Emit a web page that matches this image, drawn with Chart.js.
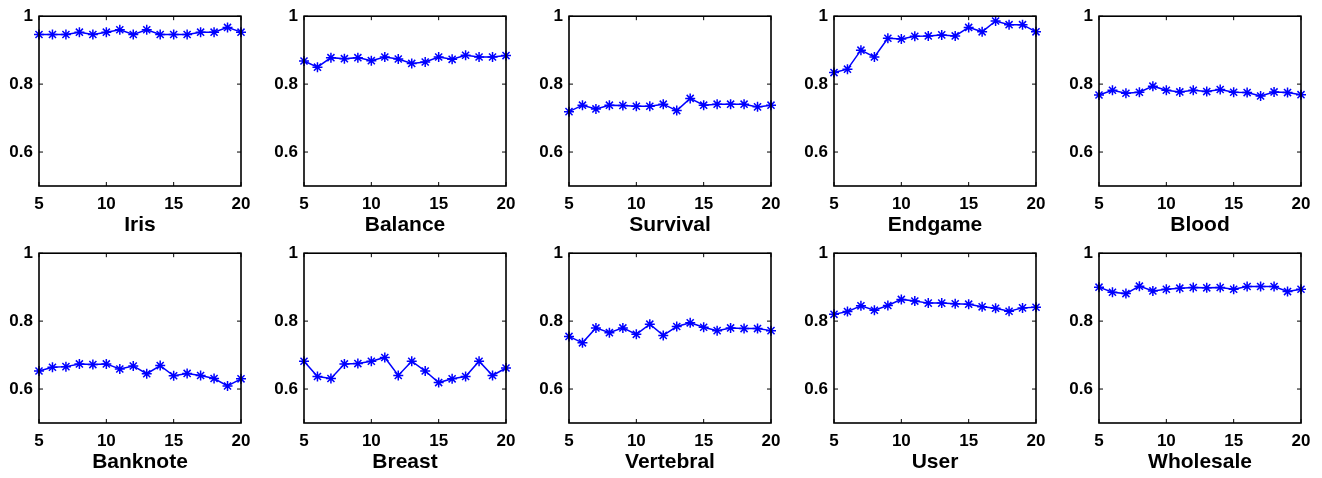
<!DOCTYPE html>
<html>
<head>
<meta charset="utf-8">
<script src="https://cdn.jsdelivr.net/npm/chart.js@4"></script>
<style>
  body { margin: 0; background: #fff; }
  #wrap { position: relative; width: 1322px; height: 478px; }
  #wrap canvas { position: absolute; }
</style>
</head>
<body>
<div id="wrap"></div>
<script>
const xs = [5, 6, 7, 8, 9, 10, 11, 12, 13, 14, 15, 16, 17, 18, 19, 20];
const xTicks = [5, 10, 15, 20];
const yTicks = [0.6, 0.8, 1];

const names = ["Iris", "Balance", "Survival", "Endgame", "Blood",
               "Banknote", "Breast", "Vertebral", "User", "Wholesale"];

const iris = [0.946, 0.946, 0.946, 0.953, 0.946, 0.953, 0.960, 0.946, 0.960, 0.946, 0.946, 0.946, 0.953, 0.953, 0.967, 0.953];
const balance = [0.868, 0.850, 0.878, 0.875, 0.878, 0.869, 0.880, 0.874, 0.861, 0.865, 0.880, 0.873, 0.885, 0.880, 0.880, 0.884];
const survival = [0.719, 0.738, 0.727, 0.738, 0.737, 0.735, 0.735, 0.741, 0.722, 0.758, 0.738, 0.741, 0.741, 0.741, 0.733, 0.738];
const endgame = [0.834, 0.844, 0.900, 0.880, 0.935, 0.933, 0.941, 0.942, 0.945, 0.942, 0.967, 0.954, 0.986, 0.975, 0.975, 0.954];
const blood = [0.768, 0.782, 0.773, 0.776, 0.794, 0.782, 0.777, 0.782, 0.778, 0.784, 0.776, 0.775, 0.765, 0.777, 0.775, 0.769];
const banknote = [0.653, 0.664, 0.666, 0.674, 0.672, 0.674, 0.659, 0.668, 0.645, 0.669, 0.639, 0.646, 0.640, 0.631, 0.609, 0.630];
const breast = [0.682, 0.637, 0.631, 0.674, 0.675, 0.682, 0.693, 0.640, 0.682, 0.653, 0.619, 0.630, 0.637, 0.682, 0.640, 0.662];
const vertebral = [0.755, 0.736, 0.780, 0.766, 0.780, 0.761, 0.791, 0.758, 0.784, 0.795, 0.782, 0.772, 0.780, 0.778, 0.778, 0.772];
const user = [0.820, 0.828, 0.845, 0.832, 0.846, 0.864, 0.859, 0.853, 0.853, 0.851, 0.850, 0.842, 0.838, 0.829, 0.839, 0.841];
const wholesale = [0.900, 0.885, 0.881, 0.903, 0.889, 0.894, 0.897, 0.899, 0.898, 0.899, 0.894, 0.902, 0.902, 0.902, 0.887, 0.894];

const series = [iris, balance, survival, endgame, blood, banknote, breast, vertebral, user, wholesale];

const fontFamily = "'Liberation Sans', Arial, sans-serif";

// box around the plot area plus MATLAB-style inward ticks
const boxTicks = {
  id: "boxTicks",
  afterDraw(chart) {
    const { ctx, chartArea: a, scales } = chart;
    const len = 4;
    ctx.save();
    ctx.strokeStyle = "#000";
    ctx.lineWidth = 1.6;
    ctx.strokeRect(a.left, a.top, a.right - a.left, a.bottom - a.top);
    ctx.lineWidth = 1;
    ctx.beginPath();
    xTicks.forEach(function (v) {
      const px = scales.x.getPixelForValue(v);
      ctx.moveTo(px, a.bottom); ctx.lineTo(px, a.bottom - len);
      ctx.moveTo(px, a.top); ctx.lineTo(px, a.top + len);
    });
    yTicks.forEach(function (v) {
      const py = scales.y.getPixelForValue(v);
      ctx.moveTo(a.left, py); ctx.lineTo(a.left + len, py);
      ctx.moveTo(a.right, py); ctx.lineTo(a.right - len, py);
    });
    ctx.stroke();
    ctx.restore();
  }
};

const wrap = document.getElementById("wrap");

names.forEach(function (name, i) {
  const col = i % 5;
  const row = Math.floor(i / 5);
  const canvas = document.createElement("canvas");
  canvas.width = 265;
  canvas.height = 238;
  canvas.style.left = (265 * col) + "px";
  canvas.style.top = (row === 0 ? 0 : 237) + "px";
  wrap.appendChild(canvas);

  new Chart(canvas.getContext("2d"), {
    type: "line",
    data: {
      datasets: [
        {
          label: name,
          data: xs.map(function (x, j) { return { x: x, y: series[i][j] }; }),
          borderColor: "#0000FF",
          backgroundColor: "#0000FF",
          borderWidth: 1.5,
          pointStyle: "star",
          pointRadius: 5,
          pointBorderWidth: 1.5,
          pointBorderColor: "#0000FF",
          fill: false,
          clip: false,
          tension: 0
        }
      ]
    },
    plugins: [boxTicks],
    options: {
      responsive: false,
      animation: false,
      layout: { padding: { top: 16, right: 24, left: 0, bottom: 0 } },
      plugins: {
        legend: { display: false },
        tooltip: { enabled: false }
      },
      scales: {
        x: {
          type: "linear",
          min: 5,
          max: 20,
          afterBuildTicks: function (s) { s.ticks = xTicks.map(function (v) { return { value: v }; }); },
          afterFit: function (s) { s.height = 52; },
          grid: { display: false, drawTicks: false },
          border: { display: false },
          ticks: {
            color: "#000",
            padding: 8,
            maxRotation: 0,
            font: { family: fontFamily, size: 17, weight: "bold" }
          },
          title: {
            display: true,
            text: name,
            color: "#000",
            padding: { top: 0, bottom: 0 },
            font: { family: fontFamily, size: 21, weight: "bold" }
          }
        },
        y: {
          min: 0.5,
          max: 1,
          afterBuildTicks: function (s) { s.ticks = yTicks.map(function (v) { return { value: v }; }); },
          afterFit: function (s) { s.width = 39; },
          grid: { display: false, drawTicks: false },
          border: { display: false },
          ticks: {
            color: "#000",
            padding: 6,
            font: { family: fontFamily, size: 17, weight: "bold" },
            callback: function (v) { return v === 1 ? "1" : v.toFixed(1); }
          }
        }
      }
    }
  });
});
</script>
</body>
</html>
